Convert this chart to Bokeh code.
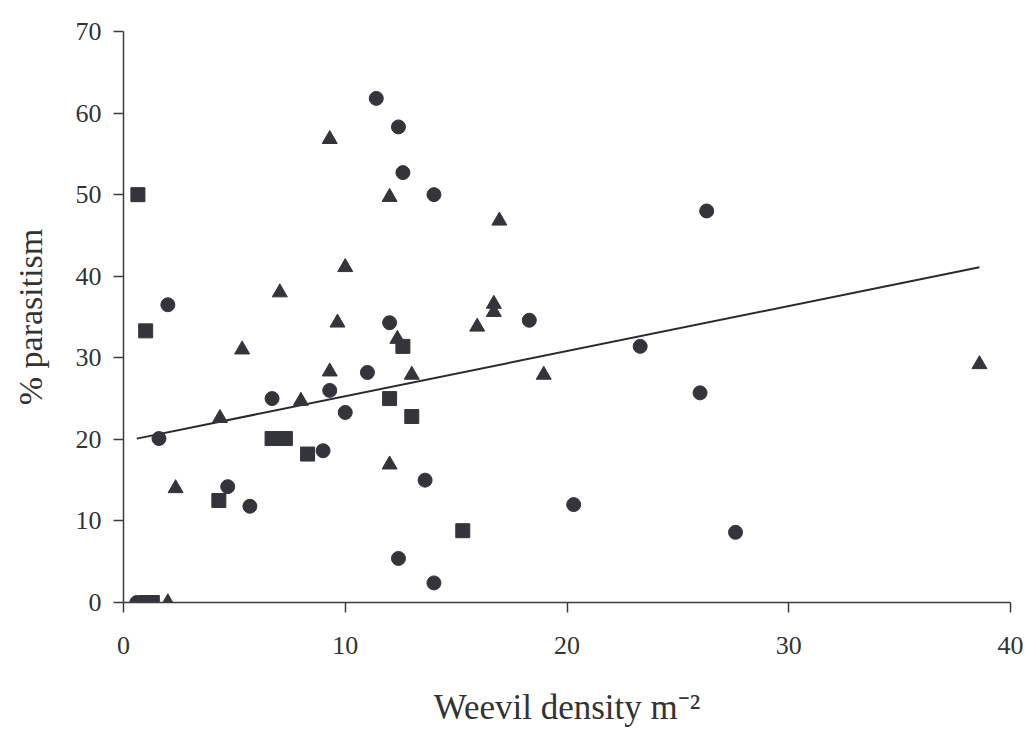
from bokeh.plotting import figure
from bokeh.models import Range1d, FixedTicker
from bokeh.embed import file_html
from bokeh.resources import INLINE

# Weevil density (per m^2) and % parasitism, three site groups
circle_x = [0.6, 0.8, 1.0, 1.6, 2.0, 4.7, 5.7, 6.7, 9.0, 9.3, 10.0, 11.0, 11.4,
            12.0, 12.4, 12.4, 12.6, 13.6, 14.0, 14.0, 18.3, 20.3, 23.3, 26.0,
            26.3, 27.6]
circle_y = [0, 0, 0, 20.1, 36.5, 14.2, 11.8, 25.0, 18.6, 26.0, 23.3, 28.2, 61.8,
            34.3, 58.3, 5.4, 52.7, 15.0, 50.0, 2.4, 34.6, 12.0, 31.4, 25.7,
            48.0, 8.6]

square_x = [1.1, 1.3, 0.65, 1.0, 4.3, 6.7, 7.3, 8.3, 12.0, 12.6, 13.0, 15.3]
square_y = [0, 0, 50.0, 33.3, 12.5, 20.1, 20.1, 18.2, 25.0, 31.4, 22.8, 8.8]

triangle_x = [2.0, 2.35, 4.35, 5.35, 7.05, 8.0, 9.3, 9.3, 9.65, 10.0, 12.0, 12.35,
              13.0, 12.0, 15.95, 16.7, 16.7, 16.95, 18.95, 38.6]
triangle_y = [0, 14.0, 22.6, 31.0, 38.0, 24.7, 28.3, 56.8, 34.3, 41.1, 49.7, 32.3,
              27.9, 16.9, 33.8, 36.6, 35.6, 46.8, 27.9, 29.2]

# fitted regression line: % parasitism = intercept + slope * density
fit_intercept = 19.76
fit_slope = 0.553

x_ticks = [0, 10, 20, 30, 40]
y_ticks = [0, 10, 20, 30, 40, 50, 60, 70]

ink = "#34343c"
axis_col = "#3c3c3c"
font = "Liberation Serif"

p = figure(width=1027, height=729, x_range=Range1d(0, 40), y_range=Range1d(0, 70),
           output_backend="svg", toolbar_location=None,
           min_border_left=123, min_border_right=17,
           min_border_top=31, min_border_bottom=127)
p.outline_line_color = None
p.grid.visible = False
p.background_fill_color = "white"
p.border_fill_color = "white"

all_x = circle_x + square_x + triangle_x
x0, x1 = min(all_x), max(all_x)
p.line([x0, x1], [fit_intercept + fit_slope * x0, fit_intercept + fit_slope * x1],
       line_color="#2a2a2a", line_width=2)

p.scatter(circle_x, circle_y, marker="circle", size=14, fill_color=ink, line_color=ink)
p.scatter(square_x, square_y, marker="square", size=14, fill_color=ink, line_color=ink)
p.scatter(triangle_x, triangle_y, marker="triangle", size=15, fill_color=ink, line_color=ink)

for ax in (p.xaxis[0], p.yaxis[0]):
    ax.axis_line_color = axis_col
    ax.axis_line_width = 1.5
    ax.major_tick_line_color = axis_col
    ax.major_tick_line_width = 1.5
    ax.major_tick_out = 10
    ax.major_tick_in = 0
    ax.minor_tick_line_color = None
    ax.major_label_text_font = font
    ax.major_label_text_font_size = "26px"
    ax.major_label_text_color = "#333333"
    ax.axis_label_text_font = font
    ax.axis_label_text_font_style = "normal"
    ax.axis_label_text_color = "#333333"

p.xaxis.ticker = FixedTicker(ticks=x_ticks)
p.yaxis.ticker = FixedTicker(ticks=y_ticks)
p.xaxis.major_label_standoff = 24
p.yaxis.major_label_standoff = 12

p.yaxis.axis_label = "% parasitism"
p.yaxis.axis_label_text_font_size = "34px"
p.yaxis.axis_label_standoff = 24

p.xaxis.axis_label = "Weevil density m\u207b\u00b2"
p.xaxis.axis_label_text_font_size = "35px"
p.xaxis.axis_label_standoff = 31

open("out.html", "w").write(file_html(p, INLINE))
